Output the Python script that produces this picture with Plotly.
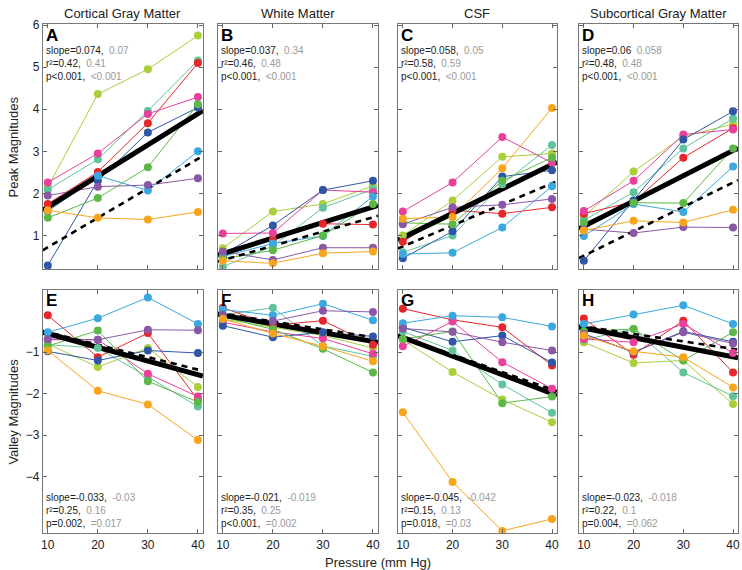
import plotly.graph_objects as go

# ---------------- data ----------------
pressure = [10, 20, 30, 40]
subject_colors = ["#a9cf3b", "#62c39b", "#e5262b", "#e8409c", "#2f56a6",
                  "#3ba8e0", "#5cb947", "#8a58a7", "#f8a51d"]

col_titles = ["Cortical Gray Matter", "White Matter", "CSF", "Subcortical Gray Matter"]
panel_letters = ["A", "B", "C", "D", "E", "F", "G", "H"]

# Peak magnitudes (rows: subjects in subject_colors order)
peak_cortical = [
    [2.15, 4.36, 4.95, 5.75], [2.09, 2.81, 3.96, 5.16], [1.75, 2.51, 3.67, 5.10],
    [2.26, 2.95, 3.89, 4.29], [0.29, 2.30, 3.45, 4.04], [1.57, 2.42, 2.07, 3.00],
    [1.42, 1.89, 2.62, 4.12], [1.95, 2.16, 2.20, 2.36], [1.60, 1.42, 1.38, 1.56]]
peak_white = [
    [0.70, 1.57, 1.75, 2.18], [0.26, 0.75, 1.66, 2.10], [0.55, 0.90, 1.28, 1.26],
    [1.05, 1.06, 2.08, 2.03], [0.55, 1.24, 2.08, 2.30], [0.50, 0.81, 0.99, 1.93],
    [0.45, 0.65, 1.00, 1.75], [0.62, 0.42, 0.71, 0.71], [0.40, 0.34, 0.58, 0.62]]
peak_csf = [
    [1.00, 1.83, 2.87, 2.95], [0.60, 1.00, 2.22, 3.15], [0.85, 1.60, 1.52, 1.67],
    [1.57, 2.26, 3.34, 2.73], [0.46, 1.10, 2.40, 2.55], [0.56, 0.59, 1.19, 2.17],
    [1.30, 1.27, 2.30, 2.85], [1.27, 1.67, 1.73, 1.87], [1.40, 1.44, 2.60, 4.03]]
peak_subcortical = [
    [1.45, 2.52, 3.35, 3.65], [1.36, 2.03, 3.07, 3.78], [1.52, 1.80, 2.85, 3.55],
    [1.58, 2.30, 3.40, 3.52], [0.40, 1.83, 3.28, 3.95], [0.99, 1.75, 1.56, 2.64],
    [1.30, 1.78, 1.77, 3.07], [1.15, 1.06, 1.20, 1.19], [1.12, 1.35, 1.31, 1.61]]

# Valley magnitudes
valley_cortical = [
    [-0.80, -1.36, -0.90, -1.84], [-0.82, -0.90, -1.60, -2.31], [-0.11, -1.12, -0.54, -2.15],
    [-0.70, -0.70, -1.52, -2.07], [-0.98, -1.20, -0.96, -1.02], [-0.52, -0.18, 0.32, -0.32],
    [-0.85, -0.48, -1.70, -2.20], [-0.68, -0.70, -0.46, -0.47], [-0.96, -1.93, -2.26, -3.12]]
valley_white = [
    [-0.20, -0.40, -0.60, -0.90], [-0.10, 0.07, -0.85, -1.10], [0.07, -0.35, -0.24, -0.82],
    [-0.28, -0.51, -0.67, -1.04], [-0.36, -0.64, -0.52, -0.62], [0.03, -0.11, 0.17, -0.23],
    [-0.15, -0.45, -0.92, -1.49], [-0.10, -0.25, 0.00, -0.03], [-0.20, -0.55, -0.86, -1.22]]
valley_csf = [
    [-0.70, -1.48, -2.14, -2.69], [-0.50, -0.96, -1.78, -2.46], [0.05, -0.22, -0.40, -1.32],
    [-0.86, -0.26, -1.24, -1.88], [-0.40, -0.75, -0.60, -1.25], [-0.30, -0.12, -0.16, -0.38],
    [-0.68, -0.50, -2.23, -2.07], [-0.43, -0.51, -0.76, -0.96], [-2.45, -4.13, -5.31, -5.02]]
valley_subcortical = [
    [-0.76, -1.26, -1.20, -2.25], [-0.70, -0.44, -1.49, -2.06], [-0.19, -1.06, -0.24, -1.49],
    [-0.68, -0.76, -0.32, -1.02], [-0.56, -1.00, -0.50, -0.75], [-0.32, -0.09, 0.13, -0.32],
    [-0.50, -0.44, -1.20, -0.52], [-0.56, -1.00, -0.52, -0.79], [-0.60, -0.98, -1.12, -1.85]]

panel_data = [peak_cortical, peak_white, peak_csf, peak_subcortical,
              valley_cortical, valley_white, valley_csf, valley_subcortical]

# Regression fits: solid (slope, intercept) and dashed (slope, intercept)
fit_solid_slope = [0.074, 0.037, 0.058, 0.060, -0.033, -0.021, -0.045, -0.023]
fit_solid_icpt = [0.934, 0.200, 0.368, 0.620, -0.223, 0.100, -0.195, -0.193]
fit_dash_slope = [0.070, 0.034, 0.050, 0.058, -0.030, -0.019, -0.042, -0.018]
fit_dash_icpt = [0.020, 0.074, 0.240, -0.060, -0.220, 0.120, -0.220, -0.200]

stat_lines = [
    ["slope=0.074,", "0.07", "r²=0.42,", "0.41", "p<0.001,", "<0.001"],
    ["slope=0.037,", "0.34", "r²=0.46,", "0.48", "p<0.001,", "<0.001"],
    ["slope=0.058,", "0.05", "r²=0.58,", "0.59", "p<0.001,", "<0.001"],
    ["slope=0.06", "0.058", "r²=0.48,", "0.48", "p<0.001,", "<0.001"],
    ["slope=-0.033,", "-0.03", "r²=0.25,", "0.16", "p=0.002,", "=0.017"],
    ["slope=-0.021,", "-0.019", "r²=0.35,", "0.25", "p<0.001,", "=0.002"],
    ["slope=-0.045,", "-0.042", "r²=0.15,", "0.13", "p=0.018,", "=0.03"],
    ["slope=-0.023,", "-0.018", "r²=0.22,", "0.1", "p=0.004,", "=0.062"],
]

x_range = [9, 41]
peak_range = [0.2, 6.03]
valley_range = [-5.37, 0.5]
peak_ticks = [1, 2, 3, 4, 5, 6]
valley_ticks = [-4, -3, -2, -1]

# ---------------- layout geometry (pixels) ----------------
W, H = 742, 570
col_px = [(41, 202), (217, 378), (398, 558), (580, 740)]
row_px = [(18, 266), (287, 533)]

def xd(a, b):
    return [a / W, b / W]

def yd(top, bot):
    return [1 - bot / H, 1 - top / H]

fig = go.Figure()
FONT = "Liberation Sans, Arial, Helvetica, sans-serif"
layout = dict(
    width=W, height=H, margin=dict(l=0, r=0, t=0, b=0),
    paper_bgcolor="white", plot_bgcolor="white", showlegend=False,
    font=dict(family=FONT, size=12, color="#222"),
)
annotations = []

for p in range(8):
    r, c = divmod(p, 4)
    ax = p + 1
    xa = "xaxis" if ax == 1 else f"xaxis{ax}"
    ya = "yaxis" if ax == 1 else f"yaxis{ax}"
    xr = "x" if ax == 1 else f"x{ax}"
    yr = "y" if ax == 1 else f"y{ax}"
    x0, x1 = col_px[c]
    t0, b0 = row_px[r]
    layout[xa] = dict(domain=xd(x0, x1), range=x_range, anchor=yr,
                      tickvals=pressure, ticks="inside", ticklen=4, tickcolor="#666",
                      showticklabels=(r == 1), showline=True, linecolor="#777",
                      linewidth=1, mirror="ticks", showgrid=False, zeroline=False,
                      tickfont=dict(size=12, color="#222"))
    layout[ya] = dict(domain=yd(t0, b0), range=peak_range if r == 0 else valley_range,
                      anchor=xr, tickvals=peak_ticks if r == 0 else valley_ticks,
                      ticks="inside", ticklen=4, tickcolor="#666",
                      showticklabels=(c == 0), showline=True, linecolor="#777",
                      linewidth=1, mirror="ticks", showgrid=False, zeroline=False,
                      tickfont=dict(size=12, color="#222"))
    data = panel_data[p]
    # subject lines
    for s, vals in enumerate(data):
        fig.add_trace(go.Scatter(x=pressure, y=vals, mode="lines",
                                 line=dict(color=subject_colors[s], width=1),
                                 xaxis=xr, yaxis=yr, hoverinfo="skip"))
    # regression lines
    fx = x_range
    fig.add_trace(go.Scatter(x=fx, y=[fit_dash_slope[p] * v + fit_dash_icpt[p] for v in fx],
                             mode="lines", line=dict(color="black", width=2.6, dash="6px,5px"),
                             xaxis=xr, yaxis=yr, hoverinfo="skip"))
    fig.add_trace(go.Scatter(x=fx, y=[fit_solid_slope[p] * v + fit_solid_icpt[p] for v in fx],
                             mode="lines", line=dict(color="black", width=5),
                             xaxis=xr, yaxis=yr, hoverinfo="skip"))
    # subject markers
    for s, vals in enumerate(data):
        fig.add_trace(go.Scatter(x=pressure, y=vals, mode="markers",
                                 marker=dict(color=subject_colors[s], size=8, line=dict(width=0)),
                                 xaxis=xr, yaxis=yr, hoverinfo="skip"))
    # stats lines
    st = stat_lines[p]
    rows = []
    for k in range(3):
        rows.append(f"{st[2*k]}  <span style='color:#9a9a9a'>{st[2*k+1].replace('<', '&lt;')}</span>")
    letter = f"<b><span style='font-size:17px;color:black'>{panel_letters[p]}</span></b>"
    if r == 0:
        # letter + stats in one block at the top of the panel
        annotations.append(dict(text="<br>".join([letter] + rows), xref="paper", yref="paper",
                                x=(x0 + 2) / W, y=1 - (t0 + 31) / H, xanchor="left",
                                yanchor="middle", align="left", showarrow=False, borderpad=0,
                                font=dict(size=10, color="#222", family=FONT)))
    else:
        annotations.append(dict(text=f"<b>{panel_letters[p]}</b>", xref="paper", yref="paper",
                                x=(x0 + 2) / W, y=1 - (t0 + 11) / H, xanchor="left",
                                yanchor="middle", showarrow=False, borderpad=0,
                                font=dict(size=17, color="black", family=FONT)))
        annotations.append(dict(text="<br>".join(rows), xref="paper", yref="paper",
                                x=(x0 + 2) / W, y=1 - (b0 - 23) / H, xanchor="left",
                                yanchor="middle", align="left", showarrow=False, borderpad=0,
                                font=dict(size=10, color="#222", family=FONT)))

# column titles
for c in range(4):
    x0, x1 = col_px[c]
    annotations.append(dict(text=col_titles[c], xref="paper", yref="paper",
                            x=(x0 + x1) / 2 / W, y=1 - 8 / H, xanchor="center", yanchor="middle",
                            showarrow=False, borderpad=0,
                            font=dict(size=13, color="#222", family=FONT)))
# axis titles
annotations.append(dict(text="Peak Magnitudes", xref="paper", yref="paper", x=12 / W,
                        y=1 - 142 / H, textangle=-90, showarrow=False, xanchor="center",
                        yanchor="middle", font=dict(size=13, color="#222", family=FONT)))
annotations.append(dict(text="Valley Magnitudes", xref="paper", yref="paper", x=12 / W,
                        y=1 - 410 / H, textangle=-90, showarrow=False, xanchor="center",
                        yanchor="middle", font=dict(size=13, color="#222", family=FONT)))
annotations.append(dict(text="Pressure (mm Hg)", xref="paper", yref="paper", x=378 / W,
                        y=1 - 562 / H, showarrow=False, xanchor="center", yanchor="middle",
                        borderpad=0, font=dict(size=13, color="#222", family=FONT)))

layout["annotations"] = annotations
fig.update_layout(**layout)
fig.write_html(
    "out.html",
    config={"displayModeBar": False},
    post_script="document.documentElement.style.margin='0';document.body.style.margin='0';"
                "document.body.style.padding='0';document.body.style.overflow='hidden';",
)
